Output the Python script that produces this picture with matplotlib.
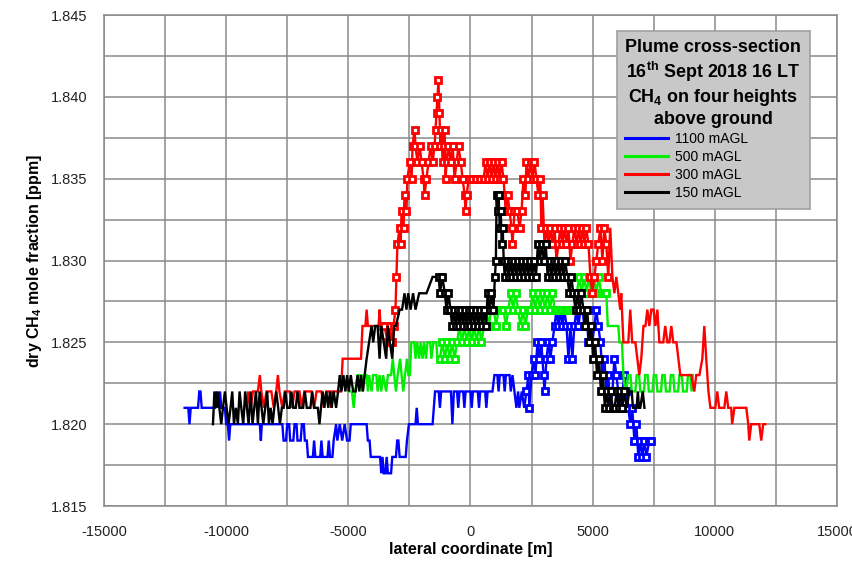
import numpy as np
import matplotlib
matplotlib.use("Agg")
import matplotlib.pyplot as plt
from matplotlib.lines import Line2D

plt.rcParams['font.family'] = ['Liberation Sans', 'DejaVu Sans']
plt.rcParams['mathtext.fontset'] = 'custom'
plt.rcParams['mathtext.rm'] = 'Liberation Sans'
plt.rcParams['mathtext.bf'] = 'Liberation Sans:bold'
plt.rcParams['axes.unicode_minus'] = False

# ---- flight legs: lateral coordinate [m] and dry CH4 mole fraction [ppm] ----
blue_x = [-11700, -11550, -11500, -11450, -11150, -11100, -11050, -11000, -10450, -10400,
          -10350, -10250, -10200, -10050, -10000, -9930, -9880, -9830, -8620, -8580,
          -8540, -7700, -7650, -7550, -7500, -7420, -7380, -7250, -7200, -7120,
          -7080, -6950, -6900, -6820, -6780, -6700, -6650, -6450, -6400, -6350,
          -6150, -6100, -6050, -5850, -5800, -5750, -5650, -5600, -5500, -5450,
          -5350, -5250, -5150, -5050, -4950, -4900, -4250, -4200, -4130, -4080,
          -3700, -3650, -3600, -3550, -3480, -3430, -3380, -3250, -3200, -3050,
          -3000, -2950, -2900, -2650, -2600, -2520, -2250, -2200, -2150, -1550,
          -1500, -1450, -1300, -1250, -1200, -800, -740, -680, -550, -500,
          -450, -300, -250, -200, 0, 50, 100, 300, 350, 400,
          600, 650, 700, 900, 980, 1100, 1150, 1200, 1350, 1400,
          1450, 1600, 1650, 1720, 1800, 1880, 1950, 2000, 2100, 2200,
          2290, 2370, 2410, 2500, 2580, 2660, 2740, 2820, 2900, 2990,
          3030, 3110, 3190, 3270, 3350, 3440, 3520, 3600, 3680, 3760,
          3840, 3930, 4010, 4090, 4170, 4250, 4340, 4420, 4500, 4580,
          4660, 4740, 4830, 4910, 4990, 5070, 5150, 5230, 5320, 5400,
          5480, 5560, 5640, 5720, 5810, 5890, 5970, 6050, 6130, 6220,
          6300, 6380, 6460, 6540, 6620, 6710, 6790, 6870, 6950, 7030,
          7120, 7200, 7320, 7400]
blue_ppm = [1.821, 1.821, 1.820, 1.821, 1.821, 1.822, 1.822, 1.821, 1.821, 1.822,
            1.821, 1.822, 1.821, 1.821, 1.820, 1.820, 1.819, 1.820, 1.820, 1.819,
            1.820, 1.820, 1.819, 1.819, 1.820, 1.820, 1.819, 1.819, 1.820, 1.820,
            1.819, 1.819, 1.820, 1.820, 1.819, 1.819, 1.818, 1.818, 1.819, 1.818,
            1.818, 1.819, 1.818, 1.818, 1.819, 1.818, 1.818, 1.819, 1.820, 1.819,
            1.820, 1.819, 1.820, 1.819, 1.819, 1.820, 1.820, 1.819, 1.819, 1.818,
            1.818, 1.817, 1.818, 1.817, 1.817, 1.818, 1.817, 1.817, 1.818, 1.818,
            1.819, 1.819, 1.818, 1.818, 1.819, 1.820, 1.820, 1.821, 1.820, 1.820,
            1.821, 1.822, 1.822, 1.821, 1.822, 1.822, 1.820, 1.822, 1.822, 1.821,
            1.822, 1.822, 1.821, 1.822, 1.822, 1.821, 1.822, 1.822, 1.821, 1.822,
            1.822, 1.821, 1.822, 1.822, 1.823, 1.823, 1.822, 1.823, 1.823, 1.822,
            1.823, 1.823, 1.822, 1.823, 1.822, 1.821, 1.822, 1.821, 1.822, 1.821,
            1.822, 1.823, 1.821, 1.823, 1.824, 1.823, 1.825, 1.824, 1.825, 1.823,
            1.822, 1.824, 1.825, 1.824, 1.825, 1.826, 1.827, 1.826, 1.827, 1.826,
            1.827, 1.826, 1.824, 1.826, 1.824, 1.826, 1.827, 1.826, 1.827, 1.827,
            1.826, 1.827, 1.825, 1.826, 1.825, 1.826, 1.827, 1.826, 1.825, 1.823,
            1.824, 1.822, 1.823, 1.821, 1.822, 1.824, 1.823, 1.822, 1.821, 1.822,
            1.823, 1.822, 1.821, 1.820, 1.821, 1.819, 1.820, 1.818, 1.819, 1.818,
            1.819, 1.818, 1.819, 1.819]
blue_marked = (2290, 7400)

green_x = [-4950, -4850, -4780, -4720, -4620, -4500, -4450, -4380, -4250, -4200,
           -4150, -4050, -3980, -3850, -3800, -3720, -3650, -3580, -3450, -3380,
           -3250, -3180, -3120, -3050, -2980, -2880, -2820, -2750, -2680, -2600,
           -2540, -2480, -2420, -2300, -2250, -2180, -2100, -2040, -1960, -1900,
           -1820, -1760, -1650, -1600, -1520, -1400, -1350,
           -1250, -1150, -1050, -950, -850, -750, -650, -550, -450, -350,
           -250, -150, -50, 50, 150, 250, 350, 450, 550, 650,
           750, 850, 950, 1050, 1150, 1250, 1350, 1450, 1550, 1650,
           1750, 1850, 1950, 2050, 2150, 2250, 2350, 2450, 2550, 2650,
           2750, 2850, 2950, 3050, 3150, 3250, 3350, 3450, 3550, 3650,
           3750, 3850, 3950, 4050, 4150, 4250, 4350, 4450, 4550, 4650,
           4750, 4850, 4950, 5050, 5150, 5250, 5350, 5450, 5560,
           5620, 6050, 6100, 6200, 6260, 6330, 6380, 6450, 6550, 6600,
           6750, 6800, 6900, 6950, 7100, 7150, 7250, 7300, 7450, 7500,
           7600, 7650, 7800, 7850, 7950, 8000, 8150, 8200, 8300, 8350,
           8500, 8550, 8650, 8700, 8850, 8900, 9000, 9050, 9100]
green_ppm = [1.822, 1.822, 1.821, 1.822, 1.823, 1.823, 1.822, 1.823, 1.823, 1.822,
             1.823, 1.822, 1.823, 1.823, 1.822, 1.823, 1.822, 1.823, 1.822, 1.823,
             1.823, 1.824, 1.823, 1.822, 1.823, 1.824, 1.823, 1.822, 1.823, 1.824,
             1.823, 1.823, 1.825, 1.825, 1.824, 1.825, 1.824, 1.825, 1.824, 1.825,
             1.824, 1.825, 1.825, 1.824, 1.825, 1.825, 1.824,
             1.824, 1.825, 1.824, 1.825, 1.824, 1.825, 1.824, 1.825, 1.826, 1.825,
             1.826, 1.825, 1.826, 1.825, 1.826, 1.825, 1.826, 1.825, 1.826, 1.827,
             1.826, 1.827, 1.827, 1.826, 1.827, 1.827, 1.827, 1.826, 1.827, 1.828,
             1.827, 1.828, 1.827, 1.826, 1.827, 1.826, 1.827, 1.827, 1.828, 1.827,
             1.828, 1.827, 1.828, 1.827, 1.828, 1.827, 1.828, 1.827, 1.827, 1.827,
             1.827, 1.827, 1.827, 1.827, 1.827, 1.827, 1.828, 1.829, 1.828, 1.829,
             1.828, 1.829, 1.828, 1.829, 1.828, 1.829, 1.828, 1.828, 1.828,
             1.826, 1.826, 1.825, 1.825, 1.823, 1.822, 1.822, 1.823, 1.823, 1.822,
             1.822, 1.823, 1.823, 1.822, 1.822, 1.823, 1.823, 1.822, 1.822, 1.823,
             1.823, 1.822, 1.822, 1.823, 1.823, 1.822, 1.822, 1.823, 1.823, 1.822,
             1.822, 1.823, 1.823, 1.822, 1.822, 1.823, 1.823, 1.822, 1.823]
green_marked = (-1250, 5560)

red_x = [-9150, -9100, -9000, -8900, -8700, -8620, -8560, -8450, -8350, -8150,
         -8050, -7950, -7880, -7820, -7700, -7600, -7400, -7300, -7200, -7000,
         -6900, -6800, -6500, -6400, -6300, -6100, -6000, -5900, -5750, -5700,
         -5650, -5300, -5230, -4480, -4420, -4300, -4250, -4200, -3760, -3720,
         -3680,
         -3600, -3520, -3390, -3310, -3230, -3150, -3070, -3030, -2990, -2900,
         -2860, -2820, -2740, -2700, -2620, -2580, -2490, -2410, -2370, -2290,
         -2250, -2170, -2080, -2000, -1920, -1880, -1800, -1720, -1630, -1550,
         -1470, -1430, -1390, -1350, -1310, -1270, -1230, -1190, -1140, -1100,
         -1060, -1020, -980, -900, -810, -730, -650, -570, -490, -400,
         -320, -240, -200, -160, -70, 50, 210, 380, 540, 620,
         700, 790, 870, 950, 1030, 1110, 1190, 1270, 1350, 1400,
         1440, 1520, 1600, 1680, 1720, 1800, 1920, 2010, 2090, 2170,
         2250, 2290, 2370, 2460, 2540, 2620, 2700, 2780, 2860, 2900,
         2950, 3030, 3110, 3190, 3270, 3350, 3440, 3520, 3600, 3680,
         3760, 3840, 3930, 4010, 4090, 4170, 4250, 4340, 4420, 4500,
         4580, 4660, 4740, 4830, 4910, 4990, 5070, 5150, 5230, 5320,
         5400, 5480, 5560, 5640,
         5720, 5810, 5890, 5970, 6050, 6130, 6170, 6260, 6380, 6460,
         6540, 6620, 6750, 6830, 6910, 6990, 7080, 7160, 7240, 7320,
         7400, 7490, 7570, 7650, 7730, 7810, 7890, 7970, 8060, 8140,
         8220, 8300, 8430, 8510, 8590, 8710, 8880, 9040, 9160, 9240,
         9370, 9490, 9570, 9650, 9740, 9820, 10020, 10100, 10180, 10390,
         10470, 10550, 10670, 10710, 10800, 11290, 11370, 11410, 11490, 11820,
         11900, 11980, 12070]
red_ppm = [1.821, 1.822, 1.821, 1.822, 1.822, 1.823, 1.822, 1.821, 1.822, 1.822,
           1.821, 1.822, 1.823, 1.822, 1.821, 1.822, 1.822, 1.821, 1.822, 1.822,
           1.821, 1.822, 1.822, 1.821, 1.822, 1.822, 1.821, 1.822, 1.822, 1.821,
           1.822, 1.822, 1.824, 1.824, 1.826, 1.826, 1.827, 1.826, 1.826, 1.827,
           1.826,
           1.826, 1.826, 1.825, 1.826, 1.825, 1.826, 1.827, 1.829, 1.831, 1.832,
           1.831, 1.833, 1.832, 1.834, 1.833, 1.835, 1.836, 1.835, 1.837, 1.838,
           1.837, 1.836, 1.837, 1.836, 1.835, 1.834, 1.835, 1.836, 1.837, 1.836,
           1.837, 1.838, 1.839, 1.840, 1.841, 1.839, 1.837, 1.838, 1.836, 1.837,
           1.838, 1.835, 1.836, 1.837, 1.836, 1.837, 1.835, 1.836, 1.837, 1.836,
           1.835, 1.834, 1.833, 1.834, 1.835, 1.835, 1.835, 1.835, 1.835, 1.836,
           1.835, 1.836, 1.835, 1.836, 1.835, 1.836, 1.835, 1.836, 1.835, 1.834,
           1.833, 1.834, 1.833, 1.832, 1.831, 1.833, 1.833, 1.832, 1.833, 1.835,
           1.834, 1.836, 1.835, 1.836, 1.835, 1.836, 1.835, 1.834, 1.835, 1.832,
           1.834, 1.831, 1.832, 1.831, 1.832, 1.831, 1.832, 1.830, 1.831, 1.832,
           1.831, 1.832, 1.831, 1.832, 1.830, 1.831, 1.832, 1.831, 1.832, 1.831,
           1.832, 1.831, 1.832, 1.831, 1.829, 1.828, 1.829, 1.830, 1.831, 1.832,
           1.830, 1.832, 1.831, 1.829,
           1.832, 1.829, 1.828, 1.829, 1.828, 1.827, 1.828, 1.825, 1.825, 1.825,
           1.827, 1.825, 1.825, 1.824, 1.823, 1.824, 1.826, 1.826, 1.827, 1.826,
           1.827, 1.827, 1.826, 1.827, 1.825, 1.825, 1.825, 1.826, 1.825, 1.825,
           1.826, 1.825, 1.825, 1.824, 1.823, 1.823, 1.823, 1.823, 1.822, 1.823,
           1.823, 1.824, 1.826, 1.824, 1.822, 1.821, 1.821, 1.822, 1.821, 1.821,
           1.822, 1.821, 1.821, 1.820, 1.821, 1.821, 1.820, 1.819, 1.820, 1.820,
           1.819, 1.820, 1.820]
red_marked = (-3600, 5640)

black_x = [-10540, -10480, -10400, -10350, -10280, -10200, -10130, -10050, -9980, -9900,
           -9820, -9750, -9680, -9600, -9520, -9450, -9380, -9300, -9220, -9150,
           -9080, -9000, -8920, -8850, -8780, -8700, -8630, -8550, -8480, -8400,
           -8320, -8250, -8180, -8100, -8030, -7950, -7870, -7800, -7720, -7650,
           -7580, -7500, -7400, -7330, -7250, -7150, -7080, -7000, -6850, -6780,
           -6700, -6550, -6480, -6400, -6250, -6180, -6120, -6050, -5980, -5900,
           -5820, -5750, -5680, -5600, -5500, -5420, -5350, -5280, -5200, -5120,
           -5050, -4980, -4900, -4800, -4700, -4620, -4550, -4480, -4400, -4330,
           -4250, -4150, -4050, -3980, -3900, -3800, -3720, -3650, -3550, -3450,
           -3380, -3300, -3200, -3120, -3050, -2900, -2800, -2700, -2620, -2550,
           -2450, -2350, -2250, -2100, -1900, -1800, -1550, -1400,
           -1300, -1250, -1150, -1050, -980, -900, -820, -750, -680, -600,
           -520, -450, -380, -300, -230, -150, -80, 0, 80, 160,
           240, 320, 400, 480, 560, 640, 700, 780, 860, 940,
           1000, 1040, 1070, 1110, 1150, 1200, 1240, 1280, 1320, 1360,
           1400, 1480, 1560, 1640, 1720, 1800, 1880, 1960, 2040, 2120,
           2200, 2280, 2360, 2440, 2520, 2600, 2680, 2760, 2840, 2920,
           3000, 3080, 3160, 3240, 3320, 3400, 3480, 3560, 3640, 3720,
           3800, 3880, 3960, 4050, 4130, 4210, 4300, 4380, 4460, 4540,
           4620, 4700, 4780, 4860, 4940, 5020, 5100, 5180, 5260, 5340,
           5420, 5500, 5580, 5660, 5740, 5820, 5900, 5980, 6060, 6140,
           6220, 6300,
           6400, 6500, 6600, 6650, 6800, 6850, 6900, 6950, 7050, 7120]
black_ppm = [1.820, 1.822, 1.821, 1.822, 1.821, 1.820, 1.821, 1.822, 1.821, 1.820,
             1.821, 1.822, 1.820, 1.821, 1.820, 1.822, 1.821, 1.820, 1.822, 1.821,
             1.820, 1.822, 1.820, 1.821, 1.822, 1.820, 1.822, 1.821, 1.820, 1.821,
             1.822, 1.820, 1.821, 1.820, 1.821, 1.822, 1.821, 1.820, 1.821, 1.821,
             1.822, 1.821, 1.821, 1.822, 1.821, 1.821, 1.822, 1.821, 1.821, 1.822,
             1.821, 1.821, 1.822, 1.821, 1.821, 1.820, 1.821, 1.822, 1.821, 1.822,
             1.821, 1.822, 1.821, 1.822, 1.821, 1.822, 1.823, 1.822, 1.823, 1.822,
             1.823, 1.822, 1.823, 1.822, 1.822, 1.823, 1.822, 1.823, 1.822, 1.823,
             1.824, 1.825, 1.826, 1.825, 1.826, 1.826, 1.824, 1.826, 1.825, 1.824,
             1.826, 1.825, 1.824, 1.826, 1.826, 1.827, 1.827, 1.828, 1.827, 1.828,
             1.827, 1.828, 1.827, 1.828, 1.828, 1.828, 1.829, 1.829,
             1.829, 1.828, 1.829, 1.828, 1.827, 1.828, 1.827, 1.826, 1.827, 1.826,
             1.827, 1.826, 1.827, 1.826, 1.827, 1.826, 1.827, 1.826, 1.827, 1.826,
             1.827, 1.826, 1.827, 1.826, 1.827, 1.826, 1.828, 1.827, 1.828, 1.827,
             1.829, 1.830, 1.834, 1.833, 1.834, 1.832, 1.833, 1.831, 1.832, 1.830,
             1.829, 1.830, 1.829, 1.830, 1.829, 1.830, 1.829, 1.830, 1.829, 1.830,
             1.829, 1.830, 1.829, 1.830, 1.829, 1.830, 1.829, 1.831, 1.830, 1.831,
             1.830, 1.831, 1.829, 1.830, 1.829, 1.830, 1.829, 1.830, 1.829, 1.830,
             1.829, 1.830, 1.829, 1.828, 1.829, 1.828, 1.827, 1.828, 1.827, 1.828,
             1.827, 1.826, 1.827, 1.825, 1.826, 1.824, 1.825, 1.823, 1.824, 1.822,
             1.823, 1.821, 1.822, 1.821, 1.822, 1.821, 1.821, 1.822, 1.821, 1.822,
             1.821, 1.822,
             1.821, 1.822, 1.822, 1.821, 1.821, 1.822, 1.821, 1.821, 1.822, 1.821]
black_marked = (-1300, 6300)

series = [
    ("1100 mAGL", "#0000ff", blue_x, blue_ppm, blue_marked),
    ("500 mAGL", "#00ee00", green_x, green_ppm, green_marked),
    ("300 mAGL", "#ff0000", red_x, red_ppm, red_marked),
    ("150 mAGL", "#000000", black_x, black_ppm, black_marked),
]

fig = plt.figure(figsize=(8.53, 5.61), dpi=100)
ax = fig.add_axes([0.1219, 0.0980, 0.8593, 0.8752])

grid_col = "#8a8a8a"
ax.set_xlim(-15000, 15000)
ax.set_ylim(1.815, 1.845)
ax.set_xticks(np.arange(-15000, 15001, 5000))
ax.set_xticks(np.arange(-15000, 15001, 2500), minor=True)
yt = [1.815, 1.820, 1.825, 1.830, 1.835, 1.840, 1.845]
ax.set_yticks(yt)
ax.set_yticklabels([f"{v:.3f}" for v in yt])
ax.set_yticks(np.arange(1.815, 1.8451, 0.0025), minor=True)
ax.grid(which="both", color=grid_col, linewidth=1.1, zorder=0)
ax.set_axisbelow(True)
ax.tick_params(which="both", length=0, labelsize=10.5, colors="#222222")
ax.tick_params(axis="y", pad=12)
ax.tick_params(axis="x", pad=14)
for sp in ax.spines.values():
    sp.set_color(grid_col)
    sp.set_linewidth(1.1)

for label, col, xs, ys, (m0, m1) in series:
    xs = np.asarray(xs, dtype=float)
    ys = np.asarray(ys, dtype=float)
    ax.plot(xs, ys, color=col, linewidth=1.7, solid_joinstyle="miter", zorder=3)
    sel = (xs >= m0) & (xs <= m1)
    ax.plot(xs[sel], ys[sel], linestyle="none", marker="s", markersize=4.2,
            markeredgewidth=2.0, markeredgecolor=col, markerfacecolor="white", zorder=3)

ax.set_xlabel("lateral coordinate [m]", fontsize=11.5, fontweight="bold", labelpad=2)
ax.set_ylabel(r"dry CH$_\mathbf{4}$ mole fraction [ppm]", fontsize=11.5,
              fontweight="bold", labelpad=5)

handles = [Line2D([], [], color=c, linewidth=2.2) for _, c, _, _, _ in series]
labels = [s[0] for s in series]
title = ("Plume cross-section\n"
         r"16$^{\mathbf{th}}$ Sept 2018 16 LT" "\n"
         r"CH$_\mathbf{4}$ on four heights" "\n"
         "above ground")
leg = ax.legend(handles, labels, loc="upper left",
                bbox_to_anchor=(617 / 853, 1 - 31 / 561), bbox_transform=fig.transFigure,
                title=title, title_fontproperties={"weight": "bold", "size": 12.9},
                fontsize=10, frameon=True, fancybox=False, framealpha=1,
                facecolor="#c8c8c8", edgecolor="#a0a0a0", borderpad=0.6,
                handlelength=3.1, handletextpad=0.5, labelspacing=0.3, borderaxespad=0)
leg.get_title().set_multialignment("center")
leg._legend_box.align = "left"
leg.get_frame().set_linewidth(1.2)
leg.set_zorder(10)

fig.savefig("out.png", dpi=100)
